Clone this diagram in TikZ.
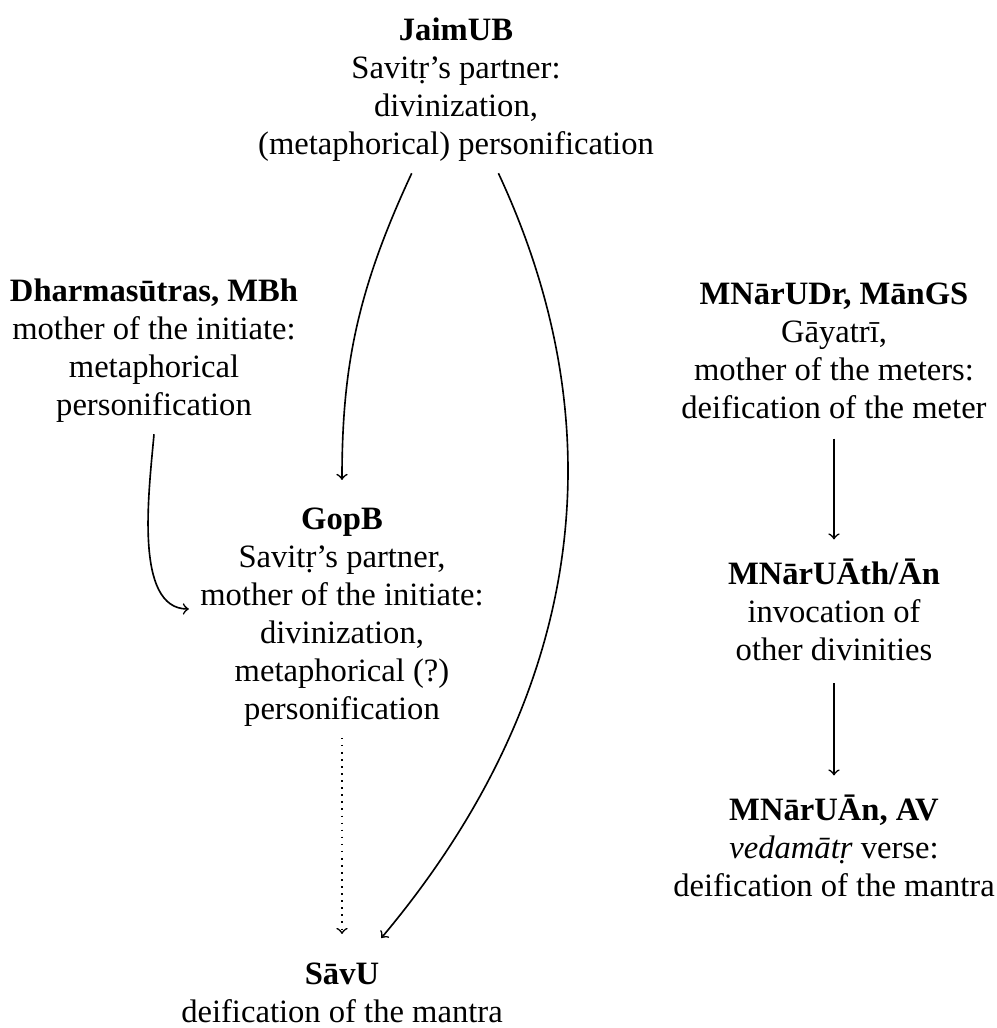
\documentclass[tikz,border=0pt]{standalone}
\usepackage{fontspec}
\setmainfont{Liberation Serif}
\usepackage{tikz}

\begin{document}
\begin{tikzpicture}[x=0.368pt, y=0.368pt,
  txt/.style={align=center, inner sep=4pt, font=\fontsize{12}{14}\selectfont},
  arr/.style={->, line width=0.6pt}]
\useasboundingbox (0,0) rectangle (997,1028);
\node[txt] (jaimub) at (456,938) {\textbf{JaimUB}\\ Savitṛ’s partner:\\ divinization,\\ (metaphorical) personification};
\node[txt] (dharma) at (154,677) {\textbf{Dharmasūtras, MBh}\\ mother of the initiate:\\ metaphorical\\ personification};
\node[txt] (mnarudr) at (834,677) {\textbf{MNārUDr, MānGS}\\ Gāyatrī,\\ mother of the meters:\\ deification of the meter};
\node[txt] (gopb) at (342,411) {\textbf{GopB}\\ Savitṛ’s partner,\\ mother of the initiate:\\ divinization,\\ metaphorical (?)\\ personification};
\node[txt] (mnaruath) at (834,418) {\textbf{MNārUĀth/Ān}\\ invocation of\\ other divinities};
\node[txt] (mnaruan) at (834,182) {\textbf{MNārUĀn, AV}\\ \textit{vedamātṛ} verse:\\ deification of the mantra};
\node[txt] (savu) at (342,35) {\textbf{SāvU}\\ deification of the mantra};
\draw[arr, shorten >=6pt] (jaimub.242) to[out=-115, in=90] (gopb.north);
\draw[arr, shorten >=6.5pt] (jaimub.297) to[out=-65, in=50] (savu.56);
\draw[arr] (dharma.south) to[out=-95, in=180, looseness=0.8] (gopb.177);
\draw[arr, dotted, shorten >=6.5pt] (gopb) -- (savu);
\draw[arr, shorten <=3pt, shorten >=3pt] (mnarudr) -- (mnaruath);
\draw[arr, shorten <=4pt, shorten >=3pt] (mnaruath) -- (mnaruan);
\end{tikzpicture}
\end{document}
